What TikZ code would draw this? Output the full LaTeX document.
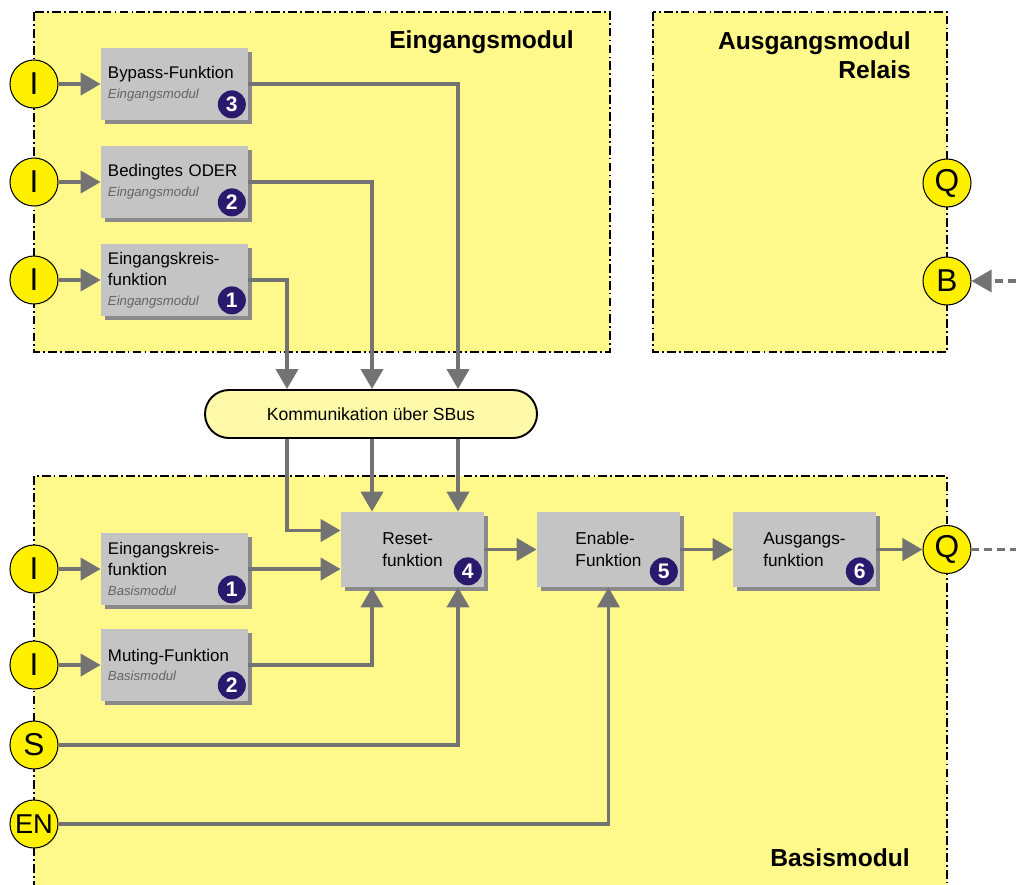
\documentclass[tikz,border=0pt]{standalone}
\usepackage{fontspec}
\setmainfont{Liberation Sans}
\usetikzlibrary{arrows.meta,shadows,calc}

\definecolor{modulgelb}{RGB}{255,248,138}
\definecolor{pingelb}{RGB}{255,240,0}
\definecolor{busgelb}{RGB}{255,249,170}
\definecolor{boxgrau}{RGB}{196,196,196}
\definecolor{schattengrau}{RGB}{138,138,138}
\definecolor{pfeilgrau}{RGB}{115,115,115}
\definecolor{nummerblau}{RGB}{42,26,110}
\definecolor{untertitel}{RGB}{100,100,100}

\newcommand{\unter}[1]{\\[-1pt]{\fontsize{7.5}{9}\selectfont\itshape\color{untertitel}#1}}

\begin{document}
\begin{tikzpicture}[x=0.2mm,y=-0.2mm]
\tikzset{modul/.style = {draw=black, line width=1.5pt, dash pattern=on 5pt off 1.8pt on 1pt off 1.8pt},
  pin/.style = {circle, draw=black, line width=0.6pt, fill=pingelb, minimum size=0.96cm, inner sep=0pt, font=\fontsize{18}{18}\selectfont},
  funktion/.style = {fill=boxgrau, minimum height=1.44cm, text width=2.66cm, inner xsep=0.14cm, align=left, font=\fontsize{9.6}{12.3}\selectfont, drop shadow={shadow xshift=0.08cm, shadow yshift=-0.08cm, fill=schattengrau, opacity=1}},
  stufe/.style = {fill=boxgrau, minimum width=2.86cm, minimum height=1.5cm, align=left, font=\fontsize{9.8}{12.5}\selectfont, drop shadow={shadow xshift=0.08cm, shadow yshift=-0.08cm, fill=schattengrau, opacity=1}},
  nummer/.style = {circle, fill=nummerblau, text=white, minimum size=0.56cm, inner sep=0pt, font=\bfseries\fontsize{12}{12}\selectfont},
  bus/.style = {draw=black, line width=1.1pt, fill=busgelb, rounded corners=0.48cm, minimum width=6.64cm, minimum height=0.96cm, font=\fontsize{10}{12}\selectfont},
  titel/.style = {anchor=east, align=right, font=\bfseries\fontsize{14}{16.5}\selectfont},
  flow/.style = {draw=pfeilgrau, line width=2.2pt, -{Triangle[length=0.4cm,width=0.44cm]}},
  zuleitung/.style = {draw=pfeilgrau, line width=2pt, dash pattern=on 4.5pt off 2.8pt}}
\useasboundingbox (0,0) rectangle (1016,884);
% modules
\fill[modulgelb] (34,12) rectangle (610,352);
\draw[modul] (34,12) rectangle (610,352);
\fill[modulgelb] (653,12) rectangle (947,352);
\draw[modul] (653,12) rectangle (947,352);
\fill[modulgelb] (34,476) rectangle (947,890);
\draw[modul] (34,890) -- (34,476) -- (947,476) -- (947,890);
\node[titel] (tEin) at (580,42) {Eingangsmodul};
\node[titel] (tAus) at (917,55) {Ausgangsmodul\\Relais};
\node[titel] (tBas) at (916,858) {Basismodul};
% function blocks
\node[funktion] (byp) at (174.5,84) {Bypass-Funktion\unter{Eingangsmodul}};
\node[funktion] (oder) at (174.5,182) {Bedingtes ODER\unter{Eingangsmodul}};
\node[funktion] (ekE) at (174.5,280) {Eingangskreis-\\funktion\unter{Eingangsmodul}};
\node[funktion] (ekB) at (174.5,569) {Eingangskreis-\\funktion\unter{Basismodul}};
\node[funktion] (mut) at (174.5,665) {Muting-Funktion\unter{Basismodul}};
\node[stufe] (reset) at (412.5,549.5) {Reset-\\funktion};
\node[stufe] (enable) at (608.5,549.5) {Enable-\\Funktion};
\node[stufe] (aus) at (804.5,549.5) {Ausgangs-\\funktion};
\foreach \b/\z in {byp/3,oder/2,ekE/1,ekB/1,mut/2,reset/4,enable/5,aus/6} {
    \node[nummer] (n\b) at ([shift={(-0.33cm,0.32cm)}]\b.south east) {\z};
}
\node[bus] (bus) at (371,414) {Kommunikation über SBus};
% pins
\foreach \n/\y in {iByp/84,iOder/182,iEkE/280,iEkB/569,iMut/665} {
    \node[pin] (\n) at (34,\y) {I};
}
\node[pin] (S) at (34,745) {S};
\node[pin, font=\fontsize{15.5}{15.5}\selectfont] (EN) at (34,824) {EN};
\node[pin] (qRel) at (947,183) {Q};
\node[pin] (bRel) at (947,281) {B};
\node[pin] (qBas) at (947,549.5) {Q};
% tracks
\coordinate (t1) at (287,0);
\coordinate (t2) at (372,0);
\coordinate (t3) at (458,0);
\coordinate (rand) at (1016,0);
% edges
\foreach \a/\b in {iByp/byp,iOder/oder,iEkE/ekE,iEkB/ekB,iMut/mut} {
    \draw[flow] (\a) -- (\b);
}
\draw[flow] (byp.east) -| (bus.north -| t3);
\draw[flow] (oder.east) -| (bus.north -| t2);
\draw[flow] (ekE.east) -| (bus.north -| t1);
\draw[flow] (bus.south -| t1) |- ([yshift=0.38cm]reset.west);
\draw[flow] (bus.south -| t2) -- (reset.north -| t2);
\draw[flow] (bus.south -| t3) -- (reset.north -| t3);
\draw[flow] (ekB.east) -- (ekB.east -| reset.west);
\draw[flow] (mut.east) -| (reset.south -| t2);
\draw[flow] (S.east) -| (reset.south -| t3);
\draw[flow] (EN.east) -| (enable.south);
\draw[flow] (reset) -- (enable);
\draw[flow] (enable) -- (aus);
\draw[flow] (aus) -- (qBas);
\draw[zuleitung] (qBas.east) -- (qBas.east -| rand);
\draw[zuleitung, -{Triangle[length=0.4cm,width=0.44cm]}] (bRel.east -| rand) -- (bRel.east);
\end{tikzpicture}
\end{document}
